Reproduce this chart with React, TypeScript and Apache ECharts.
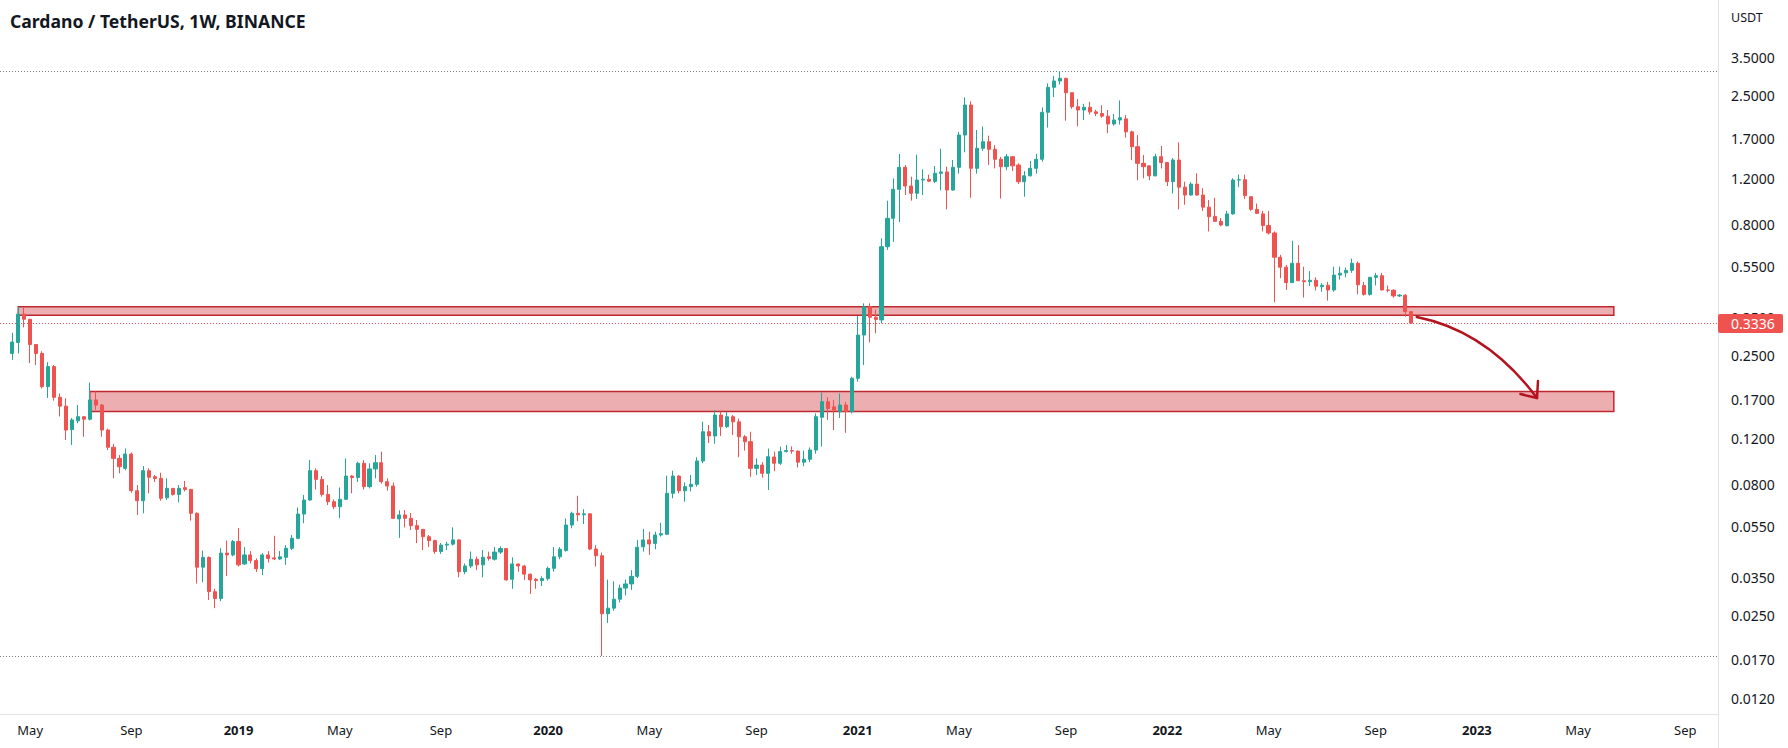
import React, { useEffect, useRef } from "react";
import * as echarts from "echarts";

// ---------- data ----------
const FIRST_WEEK = "2018-04-16"; // Monday of the first weekly bar
const WEEK_SLOTS = 287; // bars + empty future slots on the time axis

const OPEN = [
  0.255, 0.281, 0.361, 0.345, 0.276, 0.255, 0.19, 0.227, 0.173, 0.16,
  0.13, 0.1405, 0.1457, 0.1425, 0.169, 0.1615, 0.1295, 0.1112, 0.1008, 0.0923,
  0.1047, 0.0757, 0.0693, 0.0904, 0.0857, 0.0845, 0.0711, 0.0773, 0.0733, 0.0778,
  0.0766, 0.062, 0.0385, 0.042, 0.031, 0.0292, 0.0436, 0.0429, 0.0483, 0.0396,
  0.0429, 0.0408, 0.038, 0.0429, 0.0418, 0.0414, 0.042, 0.0455, 0.0497, 0.0616,
  0.0697, 0.0904, 0.0837, 0.0733, 0.0687, 0.0657, 0.0702, 0.0862, 0.0851, 0.0965,
  0.0785, 0.0918, 0.097, 0.082, 0.0789, 0.059, 0.0611, 0.0593, 0.0556, 0.0538,
  0.0504, 0.0487, 0.0442, 0.0468, 0.0472, 0.049, 0.037, 0.0389, 0.0413, 0.0393,
  0.0422, 0.0413, 0.044, 0.0454, 0.0346, 0.0396, 0.0389, 0.0362, 0.0346, 0.0342,
  0.0348, 0.0381, 0.0422, 0.0446, 0.0559, 0.062, 0.0612, 0.0617, 0.0452, 0.0426,
  0.0255, 0.0268, 0.029, 0.032, 0.0332, 0.0355, 0.0461, 0.049, 0.0475, 0.0512,
  0.0515, 0.074, 0.0862, 0.0757, 0.0785, 0.0801, 0.0985, 0.1276, 0.1229, 0.1479,
  0.1334, 0.1457, 0.1392, 0.122, 0.1168, 0.0923, 0.095, 0.0883, 0.102, 0.0965,
  0.107, 0.108, 0.1075, 0.0975, 0.1, 0.1085, 0.145, 0.1664, 0.159, 0.1523,
  0.1616, 0.1523, 0.2046, 0.3, 0.3855, 0.351, 0.343, 0.6554, 0.8426, 1.089,
  1.3229, 1.121, 1.0511, 1.182, 1.19, 1.168, 1.2546, 1.27, 1.082, 1.3229,
  1.76, 2.295, 1.311, 1.565, 1.659, 1.551, 1.42, 1.33, 1.453, 1.35,
  1.1648, 1.227, 1.311, 1.42, 2.152, 2.684, 2.838, 2.907, 2.559, 2.261,
  2.196, 2.25, 2.16, 2.13, 2.08, 1.94, 2.01, 2.03, 1.81, 1.587,
  1.37, 1.34, 1.227, 1.453, 1.38, 1.165, 1.411, 1.11, 1.035, 1.14,
  1.035, 0.93, 0.857, 0.82, 0.789, 0.876, 1.182, 1.185, 1.02, 0.912,
  0.876, 0.79, 0.74, 0.597, 0.547, 0.477, 0.566, 0.485, 0.481, 0.487,
  0.46, 0.466, 0.447, 0.51, 0.52, 0.532, 0.566, 0.465, 0.43, 0.5,
  0.507, 0.447, 0.446, 0.424, 0.427, 0.369,
];

const HIGH = [
  0.306, 0.385, 0.383, 0.346, 0.277, 0.26, 0.236, 0.23, 0.179, 0.1715,
  0.144, 0.1616, 0.146, 0.197, 0.182, 0.163, 0.131, 0.1146, 0.1038, 0.11,
  0.1061, 0.0796, 0.0941, 0.0923, 0.087, 0.0888, 0.0845, 0.0775, 0.0796, 0.0826,
  0.077, 0.0625, 0.0446, 0.0423, 0.0318, 0.0455, 0.0487, 0.049, 0.0544, 0.046,
  0.0444, 0.0416, 0.0436, 0.0444, 0.0508, 0.0444, 0.0468, 0.0512, 0.0653, 0.0729,
  0.0993, 0.0923, 0.0862, 0.0796, 0.0701, 0.0779, 0.1008, 0.087, 0.0979, 0.0993,
  0.0965, 0.1038, 0.107, 0.0845, 0.0814, 0.0637, 0.0638, 0.0622, 0.0584, 0.054,
  0.0512, 0.0491, 0.0477, 0.0482, 0.0548, 0.0493, 0.0398, 0.0442, 0.0423, 0.0448,
  0.0442, 0.046, 0.0463, 0.0455, 0.042, 0.0398, 0.0393, 0.0364, 0.035, 0.0355,
  0.0387, 0.046, 0.046, 0.0593, 0.0629, 0.0724, 0.0643, 0.062, 0.0468, 0.0438,
  0.0345, 0.034, 0.033, 0.0345, 0.0375, 0.049, 0.054, 0.0527, 0.0527, 0.057,
  0.0865, 0.0904, 0.087, 0.0815, 0.087, 0.1018, 0.1393, 0.1354, 0.1546, 0.1523,
  0.1523, 0.1479, 0.1433, 0.1239, 0.1276, 0.1008, 0.0975, 0.11, 0.107, 0.1118,
  0.1134, 0.112, 0.108, 0.108, 0.111, 0.15, 0.1802, 0.173, 0.169, 0.179,
  0.166, 0.2075, 0.3551, 0.397, 0.397, 0.376, 0.706, 0.9845, 1.2, 1.488,
  1.35, 1.217, 1.48, 1.3, 1.24, 1.338, 1.56, 1.33, 1.411, 1.81,
  2.457, 2.37, 1.84, 1.9, 1.75, 1.61, 1.45, 1.49, 1.46, 1.37,
  1.28, 1.4, 1.49, 2.25, 2.78, 2.97, 3.1, 2.92, 2.56, 2.42,
  2.32, 2.36, 2.2, 2.29, 2.196, 2.12, 2.39, 2.1, 1.83, 1.76,
  1.475, 1.34, 1.49, 1.597, 1.38, 1.435, 1.65, 1.165, 1.16, 1.255,
  1.1, 0.99, 1.01, 0.845, 0.9, 1.2, 1.24, 1.24, 1.02, 0.96,
  0.9, 0.9, 0.75, 0.61, 0.5575, 0.6912, 0.665, 0.549, 0.528, 0.5,
  0.475, 0.48, 0.549, 0.55, 0.545, 0.59, 0.575, 0.48, 0.5, 0.52,
  0.52, 0.465, 0.45, 0.431, 0.431, 0.371,
];

const LOW = [
  0.241, 0.255, 0.321, 0.234, 0.23, 0.187, 0.172, 0.168, 0.146, 0.1186,
  0.1135, 0.1375, 0.122, 0.141, 0.1546, 0.122, 0.1085, 0.0845, 0.0883, 0.0908,
  0.0744, 0.0611, 0.062, 0.074, 0.0818, 0.0693, 0.0698, 0.0725, 0.0683, 0.0752,
  0.0581, 0.0333, 0.0337, 0.0288, 0.0268, 0.0285, 0.0356, 0.0424, 0.0387, 0.0393,
  0.0398, 0.0369, 0.0359, 0.0401, 0.041, 0.041, 0.0393, 0.0448, 0.0493, 0.0568,
  0.0693, 0.0765, 0.0718, 0.0667, 0.0643, 0.0594, 0.0697, 0.074, 0.0818, 0.0765,
  0.0773, 0.0845, 0.0806, 0.0757, 0.059, 0.0499, 0.0547, 0.0535, 0.0476, 0.0448,
  0.046, 0.0433, 0.0433, 0.0448, 0.0466, 0.0352, 0.0362, 0.0382, 0.0375, 0.0352,
  0.0408, 0.0408, 0.0433, 0.0342, 0.0318, 0.037, 0.0344, 0.0304, 0.0318, 0.0326,
  0.0342, 0.037, 0.0413, 0.0442, 0.0543, 0.0578, 0.0564, 0.0448, 0.0387, 0.01755,
  0.0235, 0.0262, 0.0282, 0.03, 0.0315, 0.035, 0.0442, 0.0429, 0.0451, 0.0504,
  0.0512, 0.0708, 0.074, 0.0687, 0.0752, 0.0785, 0.0965, 0.1155, 0.1147, 0.1229,
  0.132, 0.1239, 0.1018, 0.108, 0.0857, 0.087, 0.085, 0.0762, 0.09, 0.095,
  0.1062, 0.105, 0.093, 0.094, 0.0975, 0.105, 0.1118, 0.1415, 0.1295, 0.144,
  0.1264, 0.15, 0.1986, 0.2302, 0.281, 0.3045, 0.3327, 0.637, 0.684, 0.815,
  1.035, 0.985, 1.0, 1.035, 1.16, 1.15, 1.08, 0.912, 1.075, 1.25,
  1.51, 1.01, 1.25, 1.53, 1.35, 1.31, 1.004, 1.29, 1.28, 1.14,
  1.02, 1.22, 1.25, 1.39, 1.88, 2.46, 2.75, 1.998, 2.22, 1.9,
  2.01, 2.11, 2.08, 2.05, 1.789, 1.91, 1.93, 1.72, 1.41, 1.18,
  1.2, 1.18, 1.22, 1.31, 1.121, 1.05, 0.912, 0.95, 1.03, 1.03,
  0.9, 0.75, 0.82, 0.785, 0.785, 0.87, 1.11, 1.0, 0.9, 0.876,
  0.75, 0.73, 0.401, 0.496, 0.447, 0.475, 0.485, 0.418, 0.463, 0.445,
  0.44, 0.407, 0.44, 0.49, 0.5, 0.52, 0.43, 0.425, 0.425, 0.465,
  0.445, 0.438, 0.418, 0.42, 0.353, 0.3315,
];

const CLOSE = [
  0.282, 0.361, 0.345, 0.276, 0.255, 0.19, 0.227, 0.173, 0.16, 0.1295,
  0.1416, 0.1457, 0.1425, 0.169, 0.1615, 0.1295, 0.1112, 0.1008, 0.0936, 0.1047,
  0.0757, 0.0693, 0.0904, 0.0853, 0.0843, 0.0708, 0.0773, 0.0733, 0.0773, 0.0766,
  0.062, 0.0385, 0.042, 0.031, 0.0292, 0.0436, 0.0429, 0.0483, 0.0393, 0.0429,
  0.0408, 0.038, 0.0429, 0.0416, 0.0414, 0.0422, 0.0455, 0.0497, 0.0616, 0.0697,
  0.0904, 0.0837, 0.0733, 0.0687, 0.0657, 0.0702, 0.0862, 0.0851, 0.0965, 0.0785,
  0.0918, 0.097, 0.082, 0.0789, 0.0593, 0.0611, 0.0593, 0.0556, 0.0538, 0.0504,
  0.0487, 0.0442, 0.0468, 0.0472, 0.049, 0.037, 0.0389, 0.0413, 0.0393, 0.042,
  0.0416, 0.044, 0.0454, 0.0344, 0.0396, 0.0389, 0.0362, 0.0344, 0.0342, 0.0348,
  0.0381, 0.0422, 0.0451, 0.0559, 0.062, 0.0612, 0.0617, 0.0452, 0.0426, 0.0255,
  0.0268, 0.029, 0.032, 0.0332, 0.0355, 0.0459, 0.049, 0.0473, 0.0512, 0.0518,
  0.074, 0.0862, 0.0757, 0.0785, 0.0801, 0.0985, 0.1276, 0.1229, 0.1479, 0.1334,
  0.1457, 0.1392, 0.122, 0.1168, 0.0923, 0.095, 0.0883, 0.1023, 0.0965, 0.107,
  0.108, 0.1075, 0.0975, 0.1, 0.1085, 0.1457, 0.1664, 0.1567, 0.1546, 0.1616,
  0.1523, 0.2046, 0.3, 0.3855, 0.351, 0.344, 0.6554, 0.8426, 1.089, 1.3229,
  1.121, 1.0511, 1.182, 1.19, 1.17, 1.2546, 1.27, 1.082, 1.3229, 1.76,
  2.295, 1.311, 1.565, 1.659, 1.551, 1.42, 1.33, 1.453, 1.34, 1.1648,
  1.227, 1.311, 1.42, 2.152, 2.684, 2.838, 2.907, 2.559, 2.261, 2.196,
  2.25, 2.16, 2.13, 2.08, 1.94, 2.01, 2.05, 1.81, 1.587, 1.37,
  1.33, 1.227, 1.453, 1.38, 1.165, 1.411, 1.11, 1.035, 1.14, 1.035,
  0.93, 0.855, 0.82, 0.794, 0.876, 1.182, 1.185, 1.03, 0.912, 0.88,
  0.79, 0.74, 0.597, 0.547, 0.477, 0.566, 0.485, 0.481, 0.487, 0.462,
  0.466, 0.447, 0.51, 0.5185, 0.5315, 0.566, 0.468, 0.43, 0.5, 0.507,
  0.447, 0.446, 0.424, 0.427, 0.369, 0.3336,
];

const PRICE_TICKS = [3.5, 2.5, 1.7, 1.2, 0.8, 0.55, 0.35, 0.25, 0.17, 0.12, 0.08, 0.055, 0.035, 0.025, 0.017, 0.012];
const MONTH_TICKS: Record<number, string> = { 1: "year", 5: "May", 9: "Sep" };
const LAST_PRICE = 0.3336;
const RANGE_HIGH = 3.1;
const RANGE_LOW = 0.01755;
// zones: [start bar, end bar, top price, bottom price]
const UPPER_ZONE = [1, 269, 0.3855, 0.3575];
const LOWER_ZONE = [13, 269, 0.1822, 0.1527];
// projected path: [bar, price] start, control, end
const ARROW_PATH = [
  [235.9, 0.352],
  [247.7, 0.311],
  [256.1, 0.172],
];
const TITLE = "Cardano / TetherUS, 1W, BINANCE";
const CURRENCY = "USDT";

// ---------- styling / layout ----------
const UP = "#26a69a";
const DOWN = "#ef5350";
const FONT = '"Noto Sans", "Open Sans", sans-serif';
const TEXT = "#131722";
const GRID_LEFT = 9.32;
const GRID_RIGHT = 70;
const GRID_BOTTOM = 34;
const Y_MIN = 0.010507;
const Y_MAX = 5.81;

function weekCategories(): string[] {
  const out: string[] = [];
  const t0 = Date.parse(FIRST_WEEK + "T00:00:00Z");
  for (let i = 0; i < WEEK_SLOTS; i++) {
    out.push(new Date(t0 + i * 7 * 86400000).toISOString().slice(0, 10));
  }
  return out;
}

function buildOption(cats: string[]) {
  const n = Math.min(OPEN.length, HIGH.length, LOW.length, CLOSE.length);
  const candles: any[] = [];
  for (let i = 0; i < n; i++) candles.push([OPEN[i], CLOSE[i], LOW[i], HIGH[i]]);
  const zone = (z: number[]) => [
    { xAxis: cats[z[0]], yAxis: z[2] },
    { xAxis: cats[z[1]], yAxis: z[3] },
  ];
  return {
    animation: false,
    backgroundColor: "#ffffff",
    grid: { left: GRID_LEFT, right: GRID_RIGHT, top: 0, bottom: GRID_BOTTOM, containLabel: false },
    xAxis: {
      type: "category",
      data: cats,
      boundaryGap: true,
      axisLine: { show: false },
      axisTick: { show: false },
      splitLine: { show: false },
      axisLabel: {
        interval: (_idx: number, value: string) => {
          const m = +value.slice(5, 7);
          const d = +value.slice(8, 10);
          return MONTH_TICKS[m] !== undefined && d <= 7;
        },
        formatter: (value: string) => {
          const m = +value.slice(5, 7);
          return MONTH_TICKS[m] === "year" ? `{yr|${value.slice(0, 4)}}` : MONTH_TICKS[m];
        },
        color: TEXT,
        fontSize: 13,
        fontFamily: FONT,
        margin: 8,
        lineHeight: 16,
        hideOverlap: false,
        rich: { yr: { fontWeight: "bold", fontSize: 13, fontFamily: FONT, color: TEXT, lineHeight: 16 } },
      },
    },
    yAxis: {
      type: "log",
      logBase: 10,
      min: Y_MIN,
      max: Y_MAX,
      position: "right",
      axisLine: { show: false },
      axisTick: { show: false },
      axisLabel: { show: false },
      splitLine: { show: false },
    },
    series: [
      {
        type: "candlestick",
        data: candles,
        barWidth: 3.6,
        itemStyle: { color: UP, color0: DOWN, borderColor: UP, borderColor0: DOWN, borderWidth: 1 },
        markArea: {
          silent: true,
          itemStyle: { color: "rgba(204,41,47,0.38)", borderColor: "#c0282f", borderWidth: 1.5 },
          data: [zone(UPPER_ZONE), zone(LOWER_ZONE)],
        },
      },
    ],
  };
}

function buildOverlay(chart: any) {
  const yPx = (v: number) => chart.convertToPixel({ yAxisIndex: 0 }, v) as number;
  const xa = chart.convertToPixel({ xAxisIndex: 0 }, 0) as number;
  const xb = chart.convertToPixel({ xAxisIndex: 0 }, 1) as number;
  const xPx = (i: number) => xa + i * (xb - xa);
  const W = chart.getWidth();
  const H = chart.getHeight();
  const paneR = W - GRID_RIGHT;
  const paneB = H - GRID_BOTTOM;
  const labelX = paneR + 13;
  const els: any[] = [];

  els.push({ type: "line", z: 1, shape: { x1: 0, y1: paneB + 0.5, x2: paneR, y2: paneB + 0.5 }, style: { stroke: "#e0e3eb", lineWidth: 1 } });
  els.push({ type: "line", z: 1, shape: { x1: paneR + 0.5, y1: 0, x2: paneR + 0.5, y2: H }, style: { stroke: "#e0e3eb", lineWidth: 1 } });

  for (const v of [RANGE_HIGH, RANGE_LOW]) {
    const y = Math.round(yPx(v)) + 0.5;
    els.push({ type: "line", z: 1, shape: { x1: 0, y1: y, x2: paneR, y2: y }, style: { stroke: "#787b86", lineWidth: 1, lineDash: [1, 2] } });
  }
  const yLast = Math.round(yPx(LAST_PRICE)) + 0.5;
  els.push({ type: "line", z: 1, shape: { x1: 0, y1: yLast, x2: paneR, y2: yLast }, style: { stroke: DOWN, lineWidth: 1, lineDash: [1, 2] } });

  for (const v of PRICE_TICKS) {
    els.push({
      type: "text", z: 5,
      style: { text: v.toFixed(4), x: labelX, y: yPx(v), fill: TEXT, font: `14px ${FONT}`, textAlign: "left", textVerticalAlign: "middle", align: "left", verticalAlign: "middle" },
    });
  }
  els.push({
    type: "text", z: 5,
    style: { text: CURRENCY, x: labelX, y: 17, fill: TEXT, font: `12.5px ${FONT}`, textAlign: "left", textVerticalAlign: "middle", align: "left", verticalAlign: "middle" },
  });

  // last price tag
  els.push({ type: "rect", z: 6, shape: { x: paneR, y: yLast - 9.5, width: 65, height: 19, r: 2 }, style: { fill: DOWN } });
  els.push({
    type: "text", z: 7,
    style: { text: LAST_PRICE.toFixed(4), x: labelX, y: yLast, fill: "#ffffff", font: `14px ${FONT}`, textAlign: "left", textVerticalAlign: "middle", align: "left", verticalAlign: "middle" },
  });

  // title
  els.push({
    type: "text", z: 8,
    style: { text: TITLE, x: 10, y: 21, fill: TEXT, font: `bold 17.6px ${FONT}`, textAlign: "left", textVerticalAlign: "middle", align: "left", verticalAlign: "middle" },
  });

  // projection arrow
  const p0 = [xPx(ARROW_PATH[0][0]), yPx(ARROW_PATH[0][1])];
  const c = [xPx(ARROW_PATH[1][0]), yPx(ARROW_PATH[1][1])];
  const p2 = [xPx(ARROW_PATH[2][0]), yPx(ARROW_PATH[2][1])];
  const arrowColor = "#b3131f";
  els.push({
    type: "bezierCurve", z: 9,
    shape: { x1: p0[0], y1: p0[1], x2: p2[0], y2: p2[1], cpx1: c[0], cpy1: c[1] },
    style: { stroke: arrowColor, lineWidth: 2.5, fill: null, lineCap: "round" },
  });
  const dx = c[0] - p2[0];
  const dy = c[1] - p2[1];
  const len = Math.hypot(dx, dy);
  const ux = dx / len;
  const uy = dy / len;
  const rot = (a: number) => [ux * Math.cos(a) - uy * Math.sin(a), ux * Math.sin(a) + uy * Math.cos(a)];
  const hl = 17;
  const b1 = rot(0.7);
  const b2 = rot(-0.7);
  els.push({
    type: "polyline", z: 9,
    shape: { points: [[p2[0] + b1[0] * hl, p2[1] + b1[1] * hl], [p2[0], p2[1]], [p2[0] + b2[0] * hl, p2[1] + b2[1] * hl]] },
    style: { stroke: arrowColor, lineWidth: 2.5, fill: null, lineCap: "round", lineJoin: "round" },
  });

  return els;
}

export default function App() {
  const ref = useRef<HTMLDivElement>(null);
  useEffect(() => {
    const el = ref.current;
    if (!el) return;
    const chart = echarts.init(el, null, { renderer: "svg" });
    const cats = weekCategories();
    chart.setOption(buildOption(cats) as any);
    chart.setOption({ graphic: buildOverlay(chart) } as any);
    return () => chart.dispose();
  }, []);
  return (
    <div
      ref={ref}
      style={{ position: "fixed", left: 0, top: 0, width: 1788, height: 748, background: "#ffffff" }}
    />
  );
}
